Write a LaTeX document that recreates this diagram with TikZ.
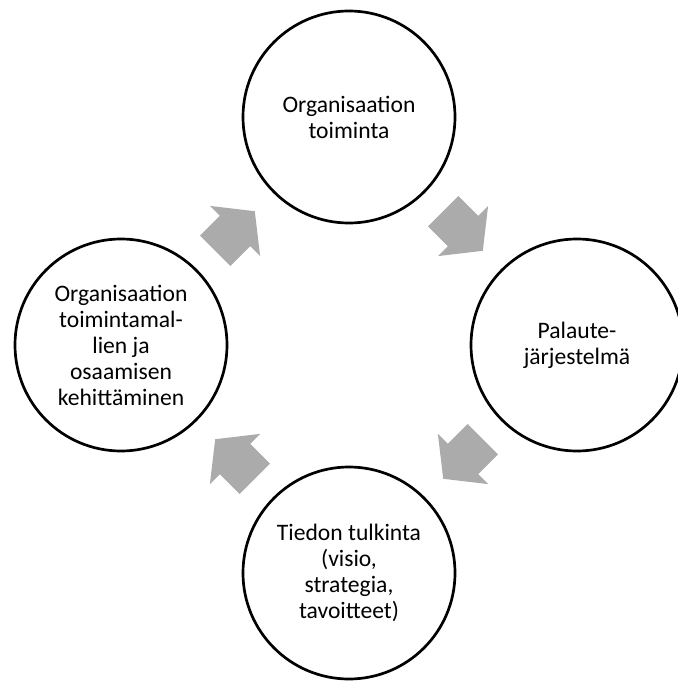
\documentclass[tikz,border=0pt]{standalone}
\usepackage{fontspec}
\setmainfont{Carlito}
\usetikzlibrary{calc}
\definecolor{cyclegray}{RGB}{171,171,171}
\tikzset{
  stage/.style={circle, draw=black, line width=2.7pt, fill=white,
    minimum size=212pt, inner sep=0pt, align=center,
    font=\fontsize{23.6}{26}\selectfont},
  cyclearrow/.style={fill=cyclegray, draw=none}
}
% block arrow centred at #1, pointing in direction #2 (degrees)
\newcommand{\cyclearrowat}[2]{%
  \path[cyclearrow, shift={#1}, rotate=#2]
    (28,0) -- (0,35.5) -- (0,21.5) -- (-28,21.5) -- (-28,-21.5) -- (0,-21.5) -- (0,-35.5) -- cycle;}
\begin{document}
\begin{tikzpicture}[x=1pt, y=-1pt]
  \useasboundingbox (0,0) rectangle (677,682);
  \coordinate (hub) at (349,345);
  \node[stage] (top)    at ($(hub)+(0,-228)$) {Organisaation\\toiminta};
  \node[stage] (right)  at ($(hub)+(228,0)$)  {Palaute-\\järjestelmä};
  \node[stage] (bottom) at ($(hub)+(0,228)$)  {Tiedon tulkinta\\(visio,\\strategia,\\tavoitteet)};
  \node[stage] (left)   at ($(hub)+(-228,0)$) {Organisaation\\toimintamal-\\lien ja\\osaamisen\\kehittäminen};
  \cyclearrowat{($(top)!0.5!(right)$)}{-45}
  \cyclearrowat{($(right)!0.5!(bottom)$)}{-135}
  \cyclearrowat{($(bottom)!0.5!(left)$)}{135}
  \cyclearrowat{($(left)!0.5!(top)$)}{45}
\end{tikzpicture}
\end{document}
